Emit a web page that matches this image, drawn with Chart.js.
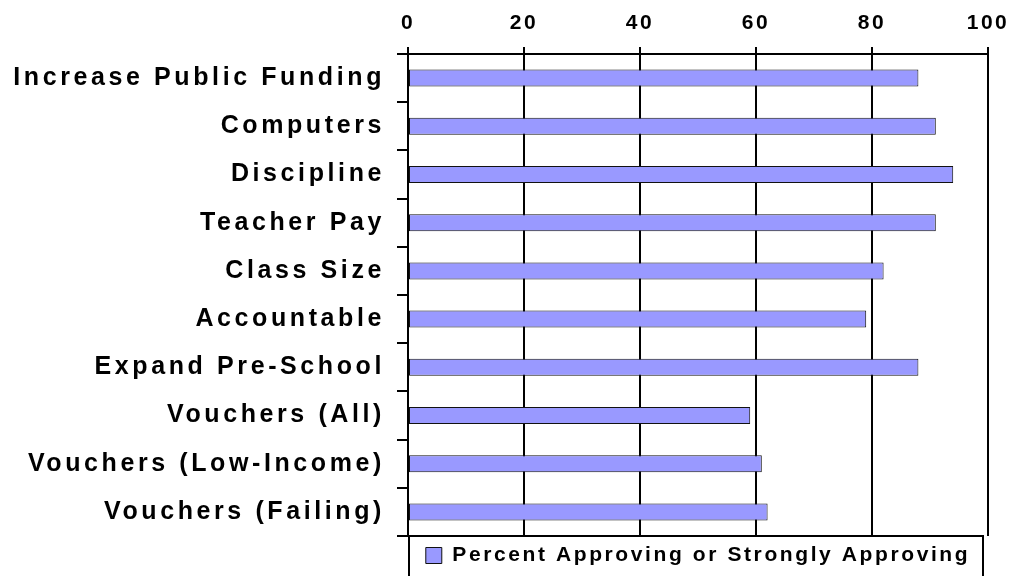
<!DOCTYPE html>
<html>
<head>
<meta charset="utf-8">
<script src="https://cdn.jsdelivr.net/npm/chart.js@4.4.1/dist/chart.umd.min.js"></script>
<style>
  html, body { margin: 0; padding: 0; background: #fff; }
  #wrap { width: 1013px; height: 576px; }
</style>
</head>
<body>
<div id="wrap"><canvas id="myChart" width="1013" height="576"></canvas></div>
<script>
const categories = ['Increase Public Funding', 'Computers', 'Discipline', 'Teacher Pay', 'Class Size',
  'Accountable', 'Expand Pre-School', 'Vouchers (All)', 'Vouchers (Low-Income)', 'Vouchers (Failing)'];
const approving = [88, 91, 94, 91, 82, 79, 88, 59, 61, 62];
const seriesName = 'Percent Approving or Strongly Approving';
const xTicks = [0, 20, 40, 60, 80, 100];

const font = "'Liberation Sans', Arial, sans-serif";

// canvas letter spacing per box (chart.js has no option for it)
function spaced(box, px) {
  if (!box || box._spaced) return;
  box._spaced = true;
  ['fit', 'draw'].forEach(function (m) {
    const orig = box[m];
    box[m] = function () {
      const ctx = this.ctx;
      const prev = ctx.letterSpacing;
      ctx.letterSpacing = px;
      const r = orig.apply(this, arguments);
      ctx.letterSpacing = prev;
      return r;
    };
  });
}

const spacingPlugin = {
  id: 'spacing',
  beforeLayout(chart) {
    spaced(chart.scales.x, '2.5px');
    spaced(chart.scales.y, '3.6px');
    spaced(chart.legend, '2.6px');
  }
};

const legendFrame = {
  id: 'legendFrame',
  afterDraw(chart) {
    const lg = chart.legend;
    const ctx = chart.ctx;
    ctx.save();
    ctx.strokeStyle = '#000';
    ctx.lineWidth = 2;
    ctx.strokeRect(lg.left + 1, lg.top, lg.width - 6, lg.height + 10);
    ctx.restore();
  }
};

const ctx = document.getElementById('myChart').getContext('2d');
const myChart = new Chart(ctx, {
  type: 'bar',
  data: {
    labels: categories,
    datasets: [{
      label: seriesName,
      data: approving,
      backgroundColor: '#9999FF',
      borderColor: '#111',
      borderWidth: 1,
      borderSkipped: false,
      barPercentage: 0.44,
      categoryPercentage: 0.8
    }]
  },
  options: {
    indexAxis: 'y',
    responsive: false,
    animation: false,
    layout: { padding: { left: 0, right: 25, top: 0, bottom: 0 } },
    plugins: {
      tooltip: { enabled: false },
      legend: {
        position: 'bottom',
        fullSize: false,
        labels: {
          color: '#000',
          font: { family: font, size: 21, weight: 'bold' },
          boxWidth: 16,
          boxHeight: 16,
          padding: 9
        }
      }
    },
    scales: {
      x: {
        position: 'top',
        min: 0,
        max: 100,
        afterBuildTicks: function (axis) {
          axis.ticks = xTicks.map(function (v) { return { value: v }; });
        },
        afterFit: function (axis) {
          axis.height = 54;
          axis.paddingLeft = 0;
          axis.paddingRight = 0;
        },
        grid: { color: '#000', lineWidth: 2, tickLength: 7, drawTicks: true },
        border: { color: '#000', width: 2 },
        ticks: {
          color: '#000',
          padding: 11,
          font: { family: font, size: 21, weight: 'bold' }
        }
      },
      y: {
        afterFit: function (axis) {
          axis.width = 408;
          axis.paddingTop = 0;
          axis.paddingBottom = 0;
        },
        grid: { color: '#000', lineWidth: 2, tickLength: 11, drawOnChartArea: false, offset: true },
        border: { color: '#000', width: 2 },
        ticks: {
          color: '#000',
          padding: 12,
          font: { family: font, size: 25, weight: 'bold' }
        }
      }
    }
  },
  plugins: [spacingPlugin, legendFrame]
});
</script>
</body>
</html>
